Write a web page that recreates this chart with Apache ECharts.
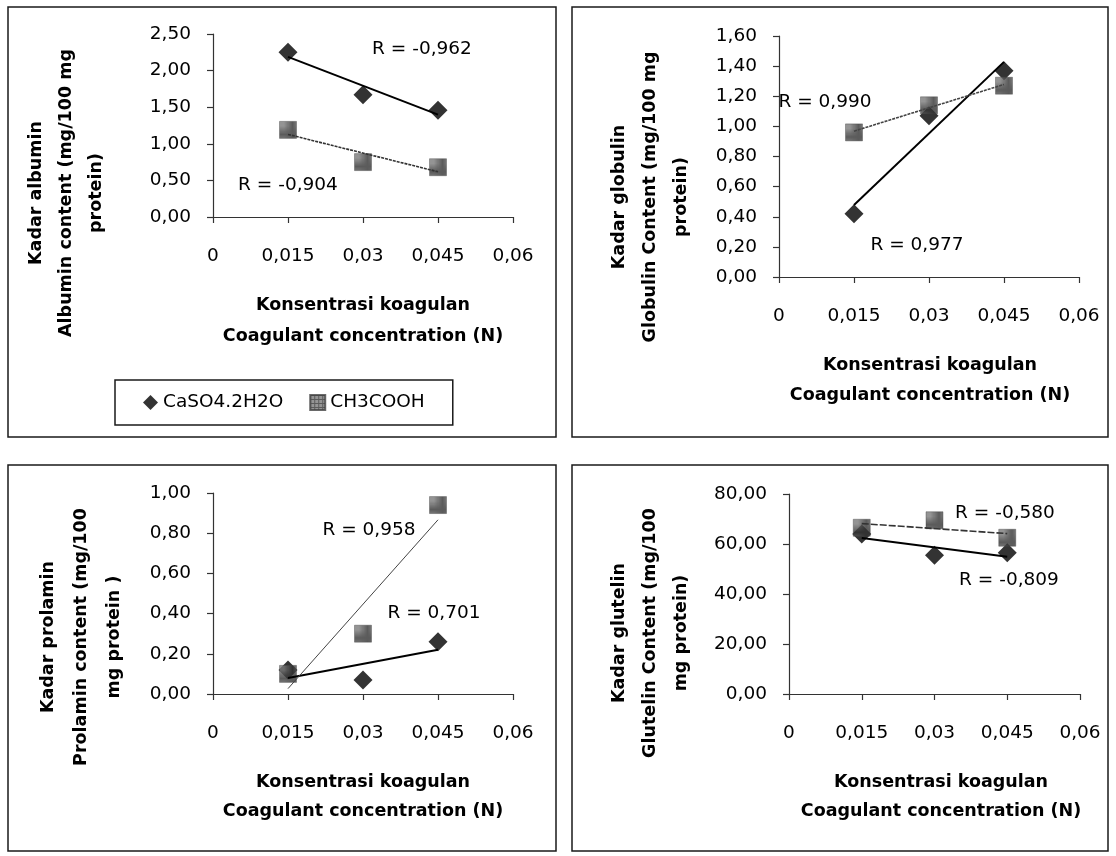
<!DOCTYPE html>
<html>
<head>
<meta charset="utf-8">
<script src="https://cdn.jsdelivr.net/npm/echarts@6/dist/echarts.min.js"></script>
<style>
html,body{margin:0;padding:0;background:#fff;}
#chart{width:1116px;height:856px;}
</style>
</head>
<body>
<div id="chart"></div>
<script>
// ---- data ----
const concentrations = [0.015, 0.03, 0.045];
const xTickLabels = ['0', '0,015', '0,03', '0,045', '0,06'];
const seriesNames = ['CaSO4.2H2O', 'CH3COOH'];

const albuminCaSO4 = [2.25, 1.67, 1.46];
const albuminCH3COOH = [1.19, 0.75, 0.68];
const globulinCaSO4 = [0.42, 1.07, 1.37];
const globulinCH3COOH = [0.96, 1.14, 1.27];
const prolaminCaSO4 = [0.12, 0.07, 0.26];
const prolaminCH3COOH = [0.10, 0.30, 0.94];
const glutelinCaSO4 = [64.0, 55.5, 56.5];
const glutelinCH3COOH = [66.5, 69.5, 62.5];

const rAlbumin = ['R = -0,962', 'R = -0,904'];
const rGlobulin = ['R = 0,977', 'R = 0,990'];
const rProlamin = ['R = 0,701', 'R = 0,958'];
const rGlutelin = ['R = -0,809', 'R = -0,580'];

const yTitles = [
  'Kadar albumin\nAlbumin content (mg/100 mg\nprotein)',
  'Kadar globulin\nGlobulin Content (mg/100 mg\nprotein)',
  'Kadar prolamin\nProlamin content (mg/100\nmg protein )',
  'Kadar glutelin\nGlutelin Content (mg/100\nmg protein)'
];
const xTitle = 'Konsentrasi koagulan\nCoagulant concentration (N)';

// ---- helpers ----
function pairs(ys) { return concentrations.map((x, i) => [x, ys[i]]); }
function trend(ys) {
  const n = ys.length;
  const mx = concentrations.reduce((a, b) => a + b, 0) / n;
  const my = ys.reduce((a, b) => a + b, 0) / n;
  let sxy = 0, sxx = 0;
  concentrations.forEach((x, i) => { sxy += (x - mx) * (ys[i] - my); sxx += (x - mx) * (x - mx); });
  const b = sxy / sxx, a = my - b * mx;
  const x0 = concentrations[0], x1 = concentrations[n - 1];
  return [[x0, a + b * x0], [x1, a + b * x1]];
}

// texture for the square markers
const pc = document.createElement('canvas');
pc.width = 4; pc.height = 4;
const pctx = pc.getContext('2d');
pctx.fillStyle = '#7a7a7a'; pctx.fillRect(0, 0, 4, 4);
pctx.fillStyle = '#333333'; pctx.fillRect(0, 0, 4, 1); pctx.fillRect(0, 0, 1, 4);
const squareFill = { image: pc, repeat: 'repeat' };

const FONT = 'DejaVu Sans';

const panels = [
  { grid: { left: 213, top: 34, width: 300, height: 183 }, max: 2.5, interval: 0.5,
    ca: albuminCaSO4, ch: albuminCH3COOH, chLine: { type: [3, 1], width: 1.6, color: '#333' } },
  { grid: { left: 779, top: 36, width: 300, height: 241 }, max: 1.6, interval: 0.2,
    ca: globulinCaSO4, ch: globulinCH3COOH, chLine: { type: [3, 1], width: 1.6, color: '#444' } },
  { grid: { left: 213, top: 493, width: 300, height: 201 }, max: 1.0, interval: 0.2,
    ca: prolaminCaSO4, ch: prolaminCH3COOH, chLine: { type: 'solid', width: 1, color: '#444' } },
  { grid: { left: 789, top: 494, width: 291, height: 200 }, max: 80, interval: 20,
    ca: glutelinCaSO4, ch: glutelinCH3COOH, chLine: { type: [7, 2], width: 1.6, color: '#333' } }
];

const grids = [], xAxes = [], yAxes = [], series = [];
panels.forEach((p, i) => {
  grids.push(p.grid);
  xAxes.push({
    type: 'value', gridIndex: i, min: 0, max: 0.06, interval: 0.015,
    axisLine: { lineStyle: { color: '#333', width: 1.2 } },
    axisTick: { show: true, length: 6, lineStyle: { color: '#333', width: 1.2 } },
    splitLine: { show: false },
    axisLabel: { margin: 30, color: '#000', fontFamily: FONT, fontSize: 18.5,
      formatter: v => xTickLabels[Math.round(v / 0.015)] }
  });
  yAxes.push({
    type: 'value', gridIndex: i, min: 0, max: p.max, interval: p.interval,
    axisLine: { show: true, lineStyle: { color: '#333', width: 1.2 } },
    axisTick: { show: true, length: 6, lineStyle: { color: '#333', width: 1.2 } },
    splitLine: { show: false },
    axisLabel: { margin: 22, color: '#000', fontFamily: FONT, fontSize: 18.5,
      formatter: v => v.toFixed(2).replace('.', ',') }
  });
  series.push({
    name: seriesNames[0], type: 'scatter', xAxisIndex: i, yAxisIndex: i,
    symbol: 'diamond', symbolSize: 19, itemStyle: { color: '#000' },
    data: pairs(p.ca), z: 3
  });
  series.push({
    name: seriesNames[1], type: 'scatter', xAxisIndex: i, yAxisIndex: i,
    symbol: 'rect', symbolSize: 17, itemStyle: { color: squareFill, borderColor: '#444', borderWidth: 0.5 },
    data: pairs(p.ch), z: 4
  });
  series.push({
    name: 'trend-ca-' + i, type: 'line', xAxisIndex: i, yAxisIndex: i,
    showSymbol: false, symbol: 'none', silent: true,
    lineStyle: { color: '#000', width: 2 }, data: trend(p.ca), z: 5
  });
  series.push({
    name: 'trend-ch-' + i, type: 'line', xAxisIndex: i, yAxisIndex: i,
    showSymbol: false, symbol: 'none', silent: true,
    lineStyle: p.chLine, data: trend(p.ch), z: 5
  });
});

function box(x, y, w, h) {
  return { type: 'rect', shape: { x: x, y: y, width: w, height: h },
    style: { fill: 'none', stroke: '#1a1a1a', lineWidth: 1.5 }, z: 0 };
}
function txt(x, y, text, opts) {
  opts = opts || {};
  return { type: 'text', x: x, y: y, rotation: opts.rot || 0, z: 10,
    style: { text: text, fill: '#000', fontFamily: FONT,
      fontSize: opts.size || 18.5, fontWeight: opts.bold ? 'bold' : 'normal',
      align: 'center', verticalAlign: 'middle', lineHeight: opts.lh || 22 } };
}

const graphic = [
  box(8, 7, 548, 430), box(572, 7, 536, 430),
  box(8, 465, 548, 386), box(572, 465, 536, 386),
  // y titles
  txt(66, 193, yTitles[0], { rot: Math.PI / 2, bold: true, size: 17.5, lh: 30 }),
  txt(650, 197, yTitles[1], { rot: Math.PI / 2, bold: true, size: 17.5, lh: 31 }),
  txt(81, 637, yTitles[2], { rot: Math.PI / 2, bold: true, size: 17.5, lh: 33 }),
  txt(650, 633, yTitles[3], { rot: Math.PI / 2, bold: true, size: 17.5, lh: 31 }),
  // x titles
  txt(363, 321, xTitle, { bold: true, size: 17.5, lh: 31 }),
  txt(930, 380, xTitle, { bold: true, size: 17.5, lh: 30 }),
  txt(363, 797, xTitle, { bold: true, size: 17.5, lh: 29 }),
  txt(941, 797, xTitle, { bold: true, size: 17.5, lh: 29 }),
  // R labels
  txt(422, 49, rAlbumin[0]), txt(288, 185, rAlbumin[1]),
  txt(917, 245, rGlobulin[0]), txt(825, 102, rGlobulin[1]),
  txt(434, 613, rProlamin[0]), txt(369, 530, rProlamin[1]),
  txt(1009, 580, rGlutelin[0]), txt(1005, 513, rGlutelin[1])
];

const chart = echarts.init(document.getElementById('chart'), null, { renderer: 'canvas' });
chart.setOption({
  animation: false,
  backgroundColor: '#fff',
  textStyle: { fontFamily: FONT },
  grid: grids, xAxis: xAxes, yAxis: yAxes, series: series,
  legend: {
    data: [{ name: seriesNames[0], icon: 'diamond' }, { name: seriesNames[1], icon: 'rect' }],
    left: 115, top: 380, padding: [13, 28], itemGap: 26,
    itemWidth: 15, itemHeight: 15,
    borderColor: '#1a1a1a', borderWidth: 1.5,
    textStyle: { fontFamily: FONT, fontSize: 18.5, color: '#000' }
  },
  graphic: graphic
});
</script>
</body>
</html>
